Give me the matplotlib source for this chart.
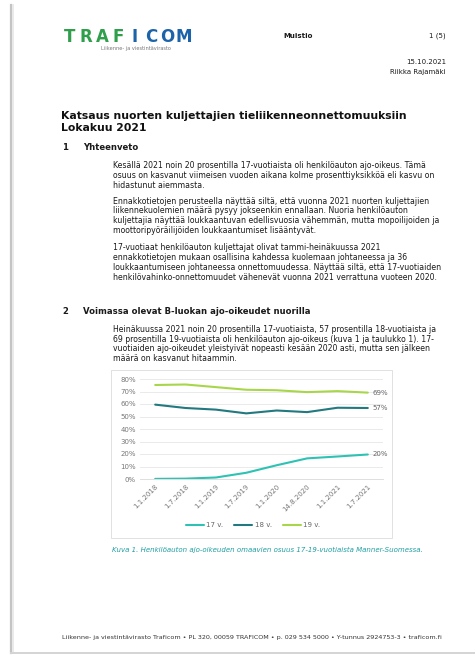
import matplotlib
matplotlib.use('Agg')
import matplotlib.pyplot as plt
from matplotlib.patches import Rectangle
from matplotlib.lines import Line2D

W, H = 475, 657

# chart data (share of 17-19 year olds with a B licence, %)
dates = ['1.1.2018', '1.7.2018', '1.1.2019', '1.7.2019', '1.1.2020', '14.8.2020', '1.1.2021', '1.7.2021']
v17 = [0.1, 0.3, 1.2, 5.0, 11.0, 16.5, 18.0, 19.6]
v18 = [59.5, 56.8, 55.5, 52.5, 54.8, 53.5, 57.0, 56.8]
v19 = [75.2, 75.6, 73.5, 71.4, 71.0, 69.5, 70.3, 69.1]
series_names = ['17 v.', '18 v.', '19 v.']
series_colors = ['#2ec2b4', '#22797f', '#a8d64a']
y_ticks = [0, 10, 20, 30, 40, 50, 60, 70, 80]

# page text
title_lines = ['Katsaus nuorten kuljettajien tieliikenneonnettomuuksiin', 'Lokakuu 2021']
par1 = ['Kesällä 2021 noin 20 prosentilla 17-vuotiaista oli henkilöauton ajo-oikeus. Tämä',
        'osuus on kasvanut viimeisen vuoden aikana kolme prosenttiyksikköä eli kasvu on',
        'hidastunut aiemmasta.']
par2 = ['Ennakkotietojen perusteella näyttää siltä, että vuonna 2021 nuorten kuljettajien',
        'liikennekuolemien määrä pysyy jokseenkin ennallaan. Nuoria henkilöauton',
        'kuljettajia näyttää loukkaantuvan edellisvuosia vähemmän, mutta mopoilijoiden ja',
        'moottoripyöräilijöiden loukkaantumiset lisääntyvät.']
par3 = ['17-vuotiaat henkilöauton kuljettajat olivat tammi-heinäkuussa 2021',
        'ennakkotietojen mukaan osallisina kahdessa kuolemaan johtaneessa ja 36',
        'loukkaantumiseen johtaneessa onnettomuudessa. Näyttää siltä, että 17-vuotiaiden',
        'henkilövahinko-onnettomuudet vähenevät vuonna 2021 verrattuna vuoteen 2020.']
par4 = ['Heinäkuussa 2021 noin 20 prosentilla 17-vuotiaista, 57 prosentilla 18-vuotiaista ja',
        '69 prosentilla 19-vuotiaista oli henkilöauton ajo-oikeus (kuva 1 ja taulukko 1). 17-',
        'vuotiaiden ajo-oikeudet yleistyivät nopeasti kesään 2020 asti, mutta sen jälkeen',
        'määrä on kasvanut hitaammin.']
caption = 'Kuva 1. Henkilöauton ajo-oikeuden omaavien osuus 17-19-vuotiaista Manner-Suomessa.'
footer = ('Liikenne- ja viestintävirasto Traficom \u2022 PL 320, 00059 TRAFICOM \u2022 '
          'p. 029 534 5000 \u2022 Y-tunnus 2924753-3 \u2022 traficom.fi')

fig = plt.figure(figsize=(W / 100, H / 100), dpi=100)
fig.patch.set_facecolor('white')


def fx(x):
    return x / W


def fy(y):
    return 1 - y / H


def txt(x, y, s, size=5.6, **kw):
    kw.setdefault('color', '#1a1a1a')
    kw.setdefault('va', 'center')
    fig.text(fx(x), fy(y), s, fontsize=size, **kw)


# page shadow edges
fig.add_artist(Line2D([fx(11), fx(11)], [fy(5), fy(653)], color='#c4c4c4', lw=1.6))
fig.add_artist(Line2D([fx(13), fx(13)], [fy(5), fy(653)], color='#e6e6e6', lw=1.2))
fig.add_artist(Line2D([fx(11), fx(475)], [fy(653), fy(653)], color='#d4d4d4', lw=1.4))

# logo
logo = 'TRAFICOM'
logo_cols = ['#2f9f4c'] * 4 + ['#1d63a9'] * 4
for i, (ch, c) in enumerate(zip(logo, logo_cols)):
    txt(61 + 131 * (i + 0.5) / 8, 37, ch, size=12, color=c, weight='bold', ha='center')
txt(101, 48.5, 'Liikenne- ja viestintävirasto', size=3.6, color='#777777')

# header
txt(283, 36, 'Muistio', size=5, weight='bold')
txt(446, 36, '1 (5)', size=5, ha='right')
txt(446, 62, '15.10.2021', size=5, ha='right')
txt(446, 72, 'Riikka Rajamäki', size=5, ha='right')

# title
txt(61, 116, title_lines[0], size=7.8, weight='bold', color='#111111')
txt(61, 128, title_lines[1], size=7.8, weight='bold', color='#111111')

# section 1
txt(62, 148, '1', size=6.1, weight='bold')
txt(83, 148, 'Yhteenveto', size=6.1, weight='bold')
for lines, y0 in [(par1, 165.7), (par2, 201), (par3, 247.7)]:
    for k, s in enumerate(lines):
        txt(113, y0 + 9.8 * k, s)

# section 2
txt(62, 312, '2', size=6.1, weight='bold')
txt(83, 312, 'Voimassa olevat B-luokan ajo-oikeudet nuorilla', size=6.1, weight='bold')
for k, s in enumerate(par4):
    txt(113, 329.3 + 9.8 * k, s)

# chart frame
fig.add_artist(Rectangle((fx(111), fy(538)), (392 - 111) / W, (538 - 370) / H,
                         transform=fig.transFigure, facecolor='white', edgecolor='#dcdcdc',
                         lw=0.6, zorder=-5))

ax = fig.add_axes([fx(140), fy(479), (383 - 140) / W, (479 - 379) / H])
ax.patch.set_alpha(0)
x = list(range(len(dates)))
for vals, name, col in zip([v17, v18, v19], series_names, series_colors):
    ax.plot(x, vals, color=col, lw=1.5, label=name, solid_capstyle='round')
    ax.text(x[-1] + 0.15, vals[-1], f'{round(vals[-1])}%', fontsize=5, color='#666666', va='center')
ax.set_xlim(-0.5, len(dates) - 0.5)
ax.set_ylim(0, 80)
ax.set_yticks(y_ticks)
ax.set_yticklabels([f'{t}%' for t in y_ticks])
ax.set_xticks(x)
ax.set_xticklabels(dates, rotation=45, ha='right', rotation_mode='anchor')
ax.tick_params(length=0, labelsize=5, labelcolor='#777777', pad=3)
ax.grid(axis='y', color='#e6e6e6', lw=0.6)
ax.set_axisbelow(True)
for s in ax.spines.values():
    s.set_visible(False)
ax.spines['bottom'].set_visible(True)
ax.spines['bottom'].set_color('#d9d9d9')
ax.spines['bottom'].set_linewidth(0.6)

leg = fig.legend(loc='center', bbox_to_anchor=(fx(253), fy(525)), ncol=3, frameon=False,
                 fontsize=5, handlelength=2.6, handletextpad=0.3, columnspacing=1.6,
                 labelcolor='#666666')

txt(112, 550, caption, size=5, style='italic', color='#1f9ea3')

txt(252, 637, footer, size=4.55, ha='center', color='#333333')

fig.savefig('out.png', dpi=100, facecolor='white')
